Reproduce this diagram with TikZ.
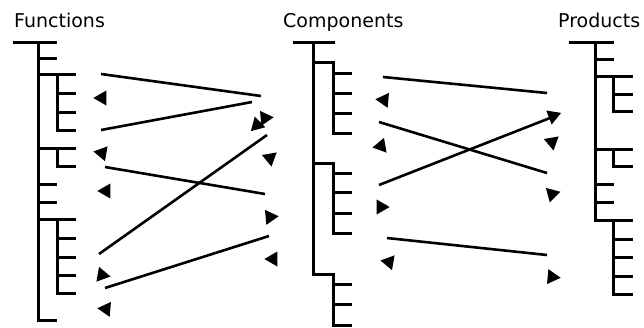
\documentclass[tikz,border=0pt]{standalone}
\usepackage{fontspec}
\setmainfont{DejaVu Sans}
\usetikzlibrary{shapes.geometric}
\tikzset{
  tree/.style={line width=3pt},
  link/.style={line width=2.6pt},
  tip/.style={isosceles triangle, isosceles triangle stretches, fill, inner sep=0pt,
    minimum width=15pt, minimum height=13pt},
  title/.style={anchor=base west, inner sep=0pt, font=\fontsize{19}{22}\selectfont}
}
\begin{document}
\begin{tikzpicture}[x=1pt,y=-1pt]
\useasboundingbox (0,0) rectangle (644,327);
\node[title] (fun)  at (14,27)  {Functions};
\node[title] (comp) at (283,27) {Components};
\node[title] (prod) at (558,27) {Products};
% functions tree
\draw[tree] (13,42) -- (57,42) (38,42) -- (38,320) -- (57,320) (38,58) -- (57,58)
  (38,74) -- (76,74) (57,74) -- (57,130) -- (76,130)
  (38,148) -- (76,148) (57,148) -- (57,166) -- (76,166)
  (38,219) -- (76,219) (57,219) -- (57,293) -- (76,293);
\foreach \y in {93,112,238,257,275} \draw[tree] (57,\y) -- (76,\y);
\foreach \y in {184,202} \draw[tree] (38,\y) -- (57,\y);
% components tree
\draw[tree] (293,42) -- (335,42) (313,42) -- (313,274) -- (333,274) -- (333,325) -- (352,325)
  (313,62) -- (333,62) -- (333,133) -- (352,133)
  (313,163) -- (333,163) -- (333,233) -- (352,233);
\foreach \y in {73,93,113,173,192,213,284,304} \draw[tree] (333,\y) -- (352,\y);
% products tree
\draw[tree] (569,42) -- (614,42) (595,42) -- (595,220) -- (633,220) (613,220) -- (613,294) -- (633,294)
  (595,76) -- (633,76) (613,76) -- (613,111) -- (633,111)
  (595,149) -- (633,149) (613,149) -- (613,166) -- (633,166);
\foreach \y in {94,239,257,276} \draw[tree] (613,\y) -- (633,\y);
\foreach \y in {59,184,202} \draw[tree] (595,\y) -- (614,\y);
% links
\foreach \i/\ax/\ay/\bx/\by in {1/101/74/261/96, 2/101/130/252/102, 3/99/254/267/135,
    4/105/167/265/194, 5/105/288/269/236, 6/383/77/547/93, 7/379/122/547/173,
    8/379/185/550/118, 9/387/238/547/255} {
  \coordinate (a\i) at (\ax,\ay);
  \coordinate (b\i) at (\bx,\by);
  \draw[link] (a\i) -- (b\i);
}
% arrow tips
\foreach \i/\x/\y/\r in {1/102/98/180, 2/102/153/170, 3/106/191/180, 4/102/275/110,
    5/106/309/175, 6/265/118/5, 7/257/125/225, 8/270/158/-80, 9/270/217/5,
    10/273/259/-60, 11/384/100/175, 12/381/146/190, 13/381/207/120, 14/389/262/170,
    15/553/116/21, 16/552/142/-80, 17/552/194/15, 18/552/277/-5}
  \node[tip, rotate=\r] (t\i) at (\x,\y) {};
\end{tikzpicture}
\end{document}
